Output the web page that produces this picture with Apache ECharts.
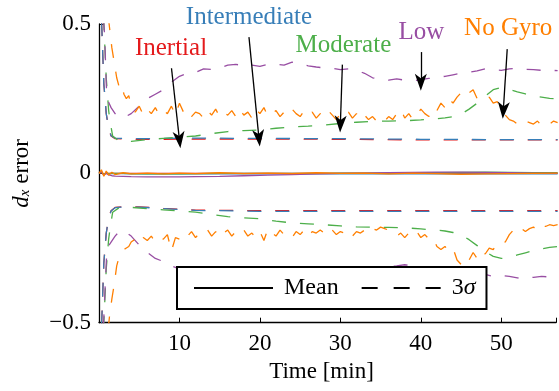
<!DOCTYPE html>
<html><head><meta charset="utf-8">
<script src="https://cdn.jsdelivr.net/npm/echarts/dist/echarts.min.js"></script>
<style>html,body{margin:0;padding:0;background:#fff}#c{width:559px;height:391px}</style>
</head><body><div id="c"></div>
<script>
// ---------------- data ----------------
const seriesNames = ['Inertial', 'Intermediate', 'Moderate', 'Low', 'No Gyro'];

// Inertial / Intermediate 3-sigma bounds
const tRB = [0.2, 0.6, 0.9, 1.2, 1.5, 2, 3, 5, 8, 12, 20, 30, 40, 50, 57];
const inertialUp = [0.6, 0.3, 0.2, 0.15, 0.125, 0.116, 0.115, 0.114, 0.114, 0.115, 0.115, 0.114, 0.112, 0.112, 0.112];
const inertialDn = [-0.6, -0.3, -0.2, -0.15, -0.125, -0.114, -0.112, -0.112, -0.117, -0.123, -0.125, -0.125, -0.125, -0.125, -0.125];
const intermUp = [0.6, 0.3, 0.2, 0.15, 0.126, 0.118, 0.117, 0.116, 0.117, 0.118, 0.117, 0.116, 0.114, 0.113, 0.113];
const intermDn = [-0.6, -0.3, -0.2, -0.15, -0.126, -0.115, -0.113, -0.113, -0.118, -0.124, -0.127, -0.127, -0.127, -0.127, -0.127];

// Moderate 3-sigma bounds
const tG = [0.2, 0.6, 0.9, 1.2, 1.4, 1.7, 2.5, 4, 6, 8, 10, 12, 14, 16, 18, 20, 22, 24, 26, 28, 30, 32, 34, 36, 38, 40, 42, 43, 44, 45, 46, 47, 48, 49, 50, 51, 52, 53, 54, 55, 56, 57];
const moderateUp = [0.9, 0.5, 0.32, 0.21, 0.17, 0.125, 0.108, 0.107, 0.113, 0.117, 0.121, 0.125, 0.133, 0.14, 0.143, 0.145, 0.151, 0.155, 0.158, 0.162, 0.167, 0.171, 0.174, 0.175, 0.176, 0.179, 0.183, 0.186, 0.19, 0.198, 0.215, 0.235, 0.258, 0.28, 0.287, 0.281, 0.273, 0.266, 0.259, 0.255, 0.251, 0.249];
const moderateDn = [-0.9, -0.5, -0.32, -0.22, -0.18, -0.13, -0.115, -0.114, -0.118, -0.122, -0.126, -0.13, -0.138, -0.145, -0.149, -0.152, -0.16, -0.166, -0.169, -0.172, -0.176, -0.179, -0.18, -0.181, -0.182, -0.186, -0.19, -0.193, -0.198, -0.206, -0.222, -0.242, -0.262, -0.278, -0.285, -0.281, -0.273, -0.266, -0.259, -0.253, -0.248, -0.245];

// Low 3-sigma bounds
const tP = [0.2, 0.5, 0.7, 0.8, 0.9, 1.0, 1.5, 2.0, 2.5, 3.0,
            4, 5, 6, 7, 8, 9, 10, 11, 12, 13,
            14, 15, 16, 17, 18, 19, 20, 21, 22, 23,
            24, 25, 26, 27, 28, 29, 30, 31, 32, 33,
            34, 35, 36, 37, 38, 39, 40, 41, 42, 43,
            44, 45, 46, 47, 48, 49, 50, 51, 52, 53,
            54, 55, 56, 57];
const lowUp = [0.8, 0.55, 0.46, 0.38, 0.3, 0.25, 0.22, 0.2, 0.19, 0.185,
               0.2, 0.225, 0.25, 0.265, 0.28, 0.305, 0.325, 0.335, 0.338, 0.35,
               0.348, 0.352, 0.362, 0.365, 0.36, 0.362, 0.358, 0.365, 0.366, 0.362,
               0.372, 0.366, 0.36, 0.356, 0.353, 0.352, 0.347, 0.35, 0.345, 0.335,
               0.32, 0.315, 0.312, 0.316, 0.312, 0.31, 0.314, 0.318, 0.32, 0.325,
               0.33, 0.335, 0.338, 0.343, 0.35, 0.347, 0.345, 0.35, 0.351, 0.348,
               0.347, 0.345, 0.345, 0.344];
const lowDn = [-0.8, -0.55, -0.42, -0.36, -0.3, -0.25, -0.23, -0.21, -0.195, -0.19,
               -0.21, -0.24, -0.265, -0.285, -0.295, -0.31, -0.32, -0.33, -0.335, -0.34,
               -0.345, -0.35, -0.352, -0.355, -0.358, -0.356, -0.36, -0.362, -0.36, -0.365,
               -0.362, -0.36, -0.358, -0.355, -0.35, -0.348, -0.345, -0.345, -0.34, -0.33,
               -0.322, -0.316, -0.312, -0.31, -0.306, -0.31, -0.313, -0.316, -0.32, -0.323,
               -0.327, -0.33, -0.333, -0.336, -0.338, -0.345, -0.342, -0.345, -0.35, -0.352,
               -0.348, -0.345, -0.347, -0.346];

// No Gyro 3-sigma bounds
const tO = [0.2, 0.6, 1.0, 1.3, 1.6, 1.9, 2.2, 2.5, 2.8, 3.1,
            3.4, 3.7, 4.0, 4.5, 5.0, 5.5, 6.0, 6.5, 7.0, 7.5,
            8.0, 8.5, 9.0, 9.5, 10.0, 10.5, 11.0, 11.5, 12.0, 12.5,
            13.0, 13.5, 14.0, 14.5, 15.0, 15.5, 16.0, 16.5, 17.0, 17.5,
            18.0, 18.5, 19.0, 19.5, 20.0, 20.5, 21.0, 21.5, 22.0, 22.5,
            23.0, 23.5, 24.0, 24.5, 25.0, 25.5, 26.0, 26.5, 27.0, 27.5,
            28.0, 28.5, 29.0, 29.5, 30.0, 30.5, 31.0, 31.5, 32.0, 32.5,
            33.0, 33.5, 34.0, 34.5, 35.0, 35.5, 36.0, 36.5, 37.0, 37.5,
            38.0, 38.5, 39.0, 39.5, 40.0, 40.5, 41.0, 41.5, 42.0, 42.5,
            43.0, 43.5, 44.0, 44.5, 45.0, 45.5, 46.0, 46.5, 47.0, 47.5,
            48.0, 48.5, 49.0, 49.5, 50.0, 50.5, 51.0, 51.5, 52.0, 52.5,
            53.0, 53.5, 54.0, 54.5, 55.0, 55.5, 56.0, 56.5, 57.0];
const noGyroUp = [0.9, 0.7, 0.56, 0.49, 0.42, 0.37, 0.32, 0.29, 0.3, 0.265,
                  0.25, 0.26, 0.225, 0.205, 0.225, 0.195, 0.215, 0.2, 0.22, 0.195,
                  0.21, 0.2, 0.225, 0.195, 0.235, 0.205, 0.215, 0.19, 0.205, 0.2,
                  0.185, 0.21, 0.195, 0.215, 0.19, 0.205, 0.195, 0.21, 0.19, 0.215,
                  0.195, 0.205, 0.185, 0.215, 0.2, 0.22, 0.19, 0.2, 0.21, 0.19,
                  0.205, 0.195, 0.215, 0.2, 0.19, 0.21, 0.195, 0.205, 0.185, 0.2,
                  0.19, 0.21, 0.195, 0.18, 0.2, 0.19, 0.205, 0.185, 0.2, 0.18,
                  0.195, 0.18, 0.19, 0.175, 0.185, 0.175, 0.19, 0.18, 0.2, 0.215,
                  0.185, 0.2, 0.18, 0.195, 0.215, 0.2, 0.19, 0.22, 0.21, 0.235,
                  0.22, 0.25, 0.235, 0.255, 0.27, 0.285, 0.27, 0.28, 0.25, 0.255,
                  0.245, 0.255, 0.235, 0.24, 0.21, 0.195, 0.18, 0.175, 0.165, 0.18,
                  0.175, 0.17, 0.165, 0.175, 0.16, 0.17, 0.165, 0.175, 0.17];
const noGyroDn = [-0.9, -0.7, -0.56, -0.48, -0.42, -0.37, -0.31, -0.28, -0.265, -0.255,
                  -0.25, -0.245, -0.23, -0.22, -0.235, -0.215, -0.225, -0.21, -0.23, -0.215,
                  -0.22, -0.205, -0.26, -0.215, -0.22, -0.2, -0.21, -0.195, -0.215, -0.2,
                  -0.205, -0.19, -0.21, -0.195, -0.215, -0.2, -0.19, -0.21, -0.195, -0.205,
                  -0.19, -0.21, -0.2, -0.215, -0.195, -0.225, -0.185, -0.2, -0.21, -0.19,
                  -0.205, -0.2, -0.215, -0.195, -0.205, -0.19, -0.21, -0.195, -0.2, -0.19,
                  -0.2, -0.21, -0.19, -0.205, -0.195, -0.2, -0.19, -0.21, -0.195, -0.2,
                  -0.19, -0.2, -0.185, -0.19, -0.18, -0.185, -0.19, -0.195, -0.21, -0.2,
                  -0.215, -0.2, -0.21, -0.195, -0.215, -0.205, -0.22, -0.215, -0.245, -0.255,
                  -0.245, -0.26, -0.25, -0.29, -0.305, -0.28, -0.29, -0.265, -0.285, -0.26,
                  -0.27, -0.25, -0.255, -0.235, -0.225, -0.23, -0.205, -0.19, -0.2, -0.185,
                  -0.195, -0.185, -0.18, -0.19, -0.172, -0.178, -0.172, -0.175, -0.172];

// Means
const tM = [0, 0.3, 0.6, 0.9, 1.2, 1.6, 2, 3, 4, 6, 8, 10, 12, 15, 18, 21, 24, 27, 30, 33, 36, 39, 42, 45, 48, 51, 54, 57];
const inertialMean = [0, 0.002, -0.002, 0, 0, 0, 0, 0, 0, 0, 0, 0, 0, 0, 0, 0, 0, 0, 0, 0, 0, 0, 0, 0, 0, 0, 0, 0];
const intermMean = [0, 0.004, -0.003, 0.002, -0.002, 0, -0.001, -0.001, -0.002, -0.002, -0.002, -0.002, -0.002, -0.002, -0.002, -0.002, -0.002, -0.002, -0.002, -0.002, -0.002, -0.002, -0.002, -0.002, -0.002, -0.002, -0.002, -0.002];
const moderateMean = [0, 0.005, -0.004, 0.002, -0.001, 0, 0, 0, -0.001, -0.002, -0.002, -0.002, -0.001, 0, 0, 0, 0, 0, 0.001, 0.001, 0.001, 0.002, 0.002, 0.003, 0.004, 0.003, 0.002, 0.002];
const lowMean = [0, 0.006, -0.006, 0, -0.005, -0.008, -0.009, -0.01, -0.011, -0.012, -0.012, -0.012, -0.011, -0.01, -0.008, -0.006, -0.004, -0.002, 0, 0.001, 0.002, 0.003, 0.004, 0.004, 0.003, 0.002, 0.001, 0];
const noGyroMean = [0, 0.012, -0.01, 0.008, -0.006, 0.004, -0.004, 0.002, -0.002, 0.001, -0.002, 0.001, -0.001, 0.002, -0.001, 0.001, -0.001, 0.002, 0, 0.001, -0.002, 0.001, -0.001, -0.003, -0.002, -0.001, 0, 0.001];

// Axis ticks
const xTicks = [10, 20, 30, 40, 50];
const yTicks = [-0.5, 0, 0.5];

// Annotations (label anchor and arrow ends, in data units)
const annoLabelT = [8.95, 18.64, 30.37, 40.06, 50.86];
const annoLabelV = [0.418, 0.521, 0.429, 0.471, 0.484];
const arrowFromT = [9.01, 18.64, 30.25, 40.0, 50.74];
const arrowFromV = [0.352, 0.456, 0.364, 0.406, 0.416];
const arrowToT = [10.0, 19.88, 30.0, 40.0, 50.25];
const arrowToV = [0.112, 0.118, 0.165, 0.305, 0.211];

// ---------------- chart ----------------
const FONT = "'Liberation Serif','DejaVu Serif','Times New Roman',serif";
const COLORS = ['#e41a1c', '#377eb8', '#4daf4a', '#984ea3', '#ff7f00'];
const DASH = [14, 14];
const ARROW = 'path://M6,0 L12,17 L6,12.5 L0,17 Z';
const zip = (t, v) => t.map((x, i) => [x, v[i]]);

function line(name, color, t, v, dashed) {
  return {
    name: name, type: 'line', data: zip(t, v), symbol: 'none', showSymbol: false,
    silent: true, animation: false, clip: true,
    lineStyle: { color: color, width: 1.3, type: dashed ? DASH : 'solid' },
    itemStyle: { color: color }
  };
}

const sigma = [
  [inertialUp, inertialDn, tRB],
  [intermUp, intermDn, tRB],
  [moderateUp, moderateDn, tG],
  [lowUp, lowDn, tP],
  [noGyroUp, noGyroDn, tO]
];
const means = [inertialMean, intermMean, moderateMean, lowMean, noGyroMean];

const series = [];
sigma.forEach((s, i) => {
  series.push(line(seriesNames[i] + ' +3s', COLORS[i], s[2], s[0], true));
  series.push(line(seriesNames[i] + ' -3s', COLORS[i], s[2], s[1], true));
});
means.forEach((m, i) => series.push(line(seriesNames[i] + ' mean', COLORS[i], tM, m, false)));

// legend-only series
series.push({ name: 'Mean', type: 'line', data: [], symbol: 'none',
  lineStyle: { color: '#000', width: 1.3, type: 'solid' }, itemStyle: { color: '#000', opacity: 0 } });
series.push({ name: '3σ', type: 'line', data: [], symbol: 'none',
  lineStyle: { color: '#000', width: 1.3, type: [16, 16] }, itemStyle: { color: '#000', opacity: 0 } });

// annotation arrows
series.push({
  name: 'annotations', type: 'line', data: [], silent: true, clip: false, animation: false,
  markLine: {
    silent: true, animation: false,
    symbol: ['none', ARROW], symbolSize: [0, 16],
    lineStyle: { color: '#000', width: 1.3, type: 'solid' },
    label: { show: false },
    data: seriesNames.map((n, i) => [
      { coord: [arrowFromT[i], arrowFromV[i]] },
      { coord: [arrowToT[i], arrowToV[i]], symbol: ARROW, symbolSize: [12, 17] }
    ])
  }
});

const chart = echarts.init(document.getElementById('c'), null, { renderer: 'canvas' });
chart.setOption({
  animation: false,
  backgroundColor: '#fff',
  grid: { left: 99, right: 0, top: 24, bottom: 68.3, containLabel: false },
  xAxis: {
    type: 'value', min: 0, max: 56.8, interval: 10,
    axisLine: { show: true, onZero: false, lineStyle: { color: '#000', width: 1.3 } },
    axisTick: { show: true, inside: true, length: 5, lineStyle: { color: '#000', width: 1 } },
    splitLine: { show: false },
    axisLabel: { fontFamily: FONT, fontSize: 23, color: '#000', margin: 10,
      formatter: v => xTicks.indexOf(v) >= 0 ? String(v) : '' },
    name: 'Time [min]', nameLocation: 'middle', nameGap: 37,
    nameTextStyle: { fontFamily: FONT, fontSize: 23, color: '#000', padding: [0, 12, 0, 0] }
  },
  yAxis: {
    type: 'value', min: -0.5, max: 0.5, interval: 0.5,
    axisLine: { show: true, onZero: false, lineStyle: { color: '#000', width: 1.3 } },
    axisTick: { show: true, inside: true, length: 5, lineStyle: { color: '#000', width: 1 } },
    splitLine: { show: false },
    axisLabel: { fontFamily: FONT, fontSize: 23, color: '#000', margin: 8,
      formatter: v => yTicks.indexOf(v) >= 0 ? (v < 0 ? '\u2212' + (-v) : String(v)) : '' },
    name: '{d|d}{x|x} error', nameLocation: 'middle', nameGap: 66,
    nameTextStyle: { fontFamily: FONT, fontSize: 23, color: '#000',
      rich: {
        d: { fontFamily: FONT, fontSize: 23, fontStyle: 'italic', color: '#000' },
        x: { fontFamily: FONT, fontSize: 15, fontStyle: 'italic', color: '#000', verticalAlign: 'bottom' }
      } }
  },
  legend: {
    data: ['Mean', '3σ'],
    left: 177, top: 267, orient: 'horizontal',
    itemWidth: 79, itemHeight: 14, itemGap: 22,
    padding: [9, 11, 9, 16],
    borderColor: '#000', borderWidth: 2, backgroundColor: '#fff', borderRadius: 0,
    selectedMode: false,
    itemStyle: { opacity: 0 },
    formatter: n => n === 'Mean' ? ' Mean' : ' 3{s|σ}',
    textStyle: { fontFamily: FONT, fontSize: 24, color: '#000',
      rich: { s: { fontFamily: FONT, fontSize: 24, fontStyle: 'italic', color: '#000' } } }
  },
  series: series
});

// annotation labels, placed through the chart's own scales
chart.setOption({
  graphic: seriesNames.map((n, i) => {
    const p = chart.convertToPixel({ gridIndex: 0 }, [annoLabelT[i], annoLabelV[i]]);
    return {
      type: 'text', x: p[0], y: p[1], silent: true, z: 100,
      style: { text: n, fill: COLORS[i], font: '25px ' + FONT, align: 'center', verticalAlign: 'middle' }
    };
  })
});
</script></body></html>
